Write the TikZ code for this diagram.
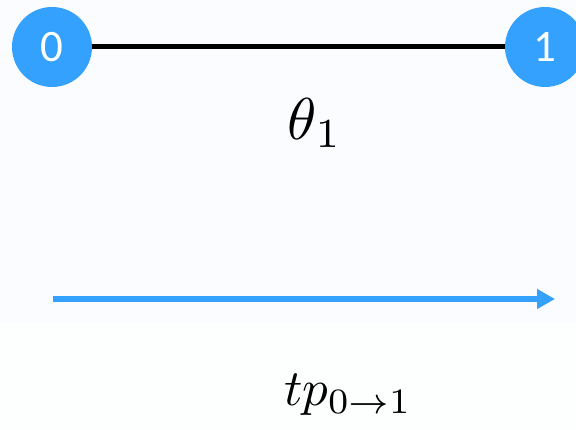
\documentclass[tikz,border=0pt]{standalone}
\usepackage{fontspec}
\newfontfamily\nodefont{Carlito}
\usetikzlibrary{arrows.meta}
\definecolor{nodeblue}{HTML}{33A1FD}
\definecolor{bgtop}{HTML}{FBFCFF}
\definecolor{bgbot}{HTML}{FDFEFE}
\begin{document}
\begin{tikzpicture}[x=1pt,y=-1pt,
  vertex/.style={circle,fill=nodeblue,minimum size=80pt,inner sep=0pt,text=white,font=\nodefont\fontsize{45}{48}\selectfont},
  edge/.style={line width=5pt,black},
  flow/.style={line width=5.5pt,nodeblue,-{Triangle[length=18pt,width=19pt]}},
  lbl/.style={inner sep=0pt}]
\useasboundingbox (0,0) rectangle (576,430);
\fill[bgbot] (0,0) rectangle (576,430);
\fill[bgtop] (0,0) rectangle (576,322);
\begin{scope}
\clip (0,0) rectangle (576,430);
\node[vertex] (n0) at (52,47) {0};
\node[vertex] (n1) at (545,47) {1};
\draw[edge] (n0) -- (n1);
\end{scope}
\node[lbl,scale=5.9] (theta) at (315,123) {$\theta_1$};
\coordinate (a0) at (53,299);
\coordinate (a1) at (555,299);
\draw[flow] (a0) -- (a1);
\node[lbl,scale=5.1] (tp) at (348,395) {$tp_{0\rightarrow1}$};
\end{tikzpicture}
\end{document}
